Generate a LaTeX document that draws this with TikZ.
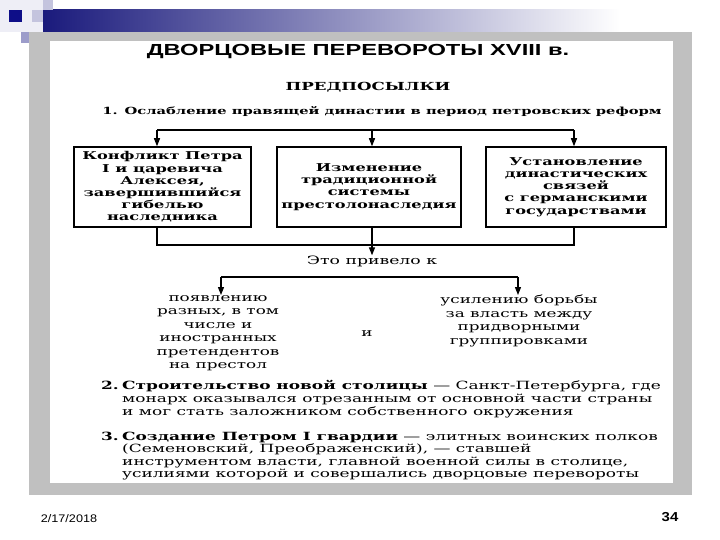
\documentclass[tikz,border=0pt]{standalone}
\usepackage{fontspec}
\setmainfont[FakeStretch=1.5]{DejaVu Serif}
\newfontfamily\titlef[FakeStretch=1.48]{Liberation Sans}
\newfontfamily\footf[FakeStretch=1.15]{Liberation Sans}
\usetikzlibrary{arrows.meta}
\definecolor{navy}{HTML}{1A1A7C}
\definecolor{darksq}{HTML}{0E0E88}
\definecolor{lav}{HTML}{C4C4DE}
\definecolor{lavlight}{HTML}{EEEEF6}
\definecolor{lavmid}{HTML}{9C9CCA}
\definecolor{framegrey}{HTML}{C0C0C0}
\tikzset{
  arr/.style={-{Triangle[length=8pt,width=6pt]}, line width=1.2pt},
  conn/.style={line width=1.2pt},
  box/.style={draw, line width=1.5pt, align=center, inner sep=0pt,
    minimum height=80pt, font=\bfseries\fontsize{10.8}{12.2}\selectfont},
  plain/.style={align=center, inner sep=0pt, font=\fontsize{11.2}{13.5}\selectfont},
}
\begin{document}
\begin{tikzpicture}[x=1pt,y=-1pt]
\useasboundingbox (0,0) rectangle (720,540);
\fill[white] (0,0) rectangle (720,540);
% decoration
\fill[lavlight] (0,0) rectangle (43,32);
\shade[left color=navy, right color=white] (43,10) rectangle (620,32);
\fill[lav] (43,0) rectangle (53,10);
\fill[lav] (32,10) rectangle (43,22);
\fill[darksq] (9,10) rectangle (22,22);
\fill[lavmid] (21,32) rectangle (32,43);
% frame
\fill[framegrey] (29,32) rectangle (692,495);
\fill[white] (50,41) rectangle (673,483);
% texts
\node[font=\titlef\bfseries\fontsize{16}{18}\selectfont, inner sep=0pt] (title) at (358,52) {ДВОРЦОВЫЕ ПЕРЕВОРОТЫ XVIII в.};
\node[font=\bfseries\fontsize{11.1}{13}\selectfont, inner sep=0pt] (pre) at (368,87) {ПРЕДПОСЫЛКИ};
\node[font=\bfseries\fontsize{9.8}{12}\selectfont, inner sep=0pt] (p1) at (382,112) {1. Ослабление правящей династии в период петровских реформ};
% boxes
\node[box, minimum width=177pt] (b1) at (162.5,187) {Конфликт Петра\\I и царевича\\Алексея,\\завершившийся\\гибелью\\наследника};
\node[box, minimum width=184pt] (b2) at (369,187) {Изменение\\традиционной\\системы\\престолонаследия};
\node[box, minimum width=180pt] (b3) at (576,187) {Установление\\династических\\связей\\с германскими\\государствами};
% top connectors
\coordinate (t1) at (157,130);
\coordinate (t2) at (372,130);
\coordinate (t3) at (574,130);
\draw[conn] (t1) -- (t3);
\draw[arr] (t1) -- (t1 |- b1.north);
\draw[arr] (t2) -- (t2 |- b2.north);
\draw[arr] (t3) -- (t3 |- b3.north);
% bottom connectors
\coordinate (u1) at (157,245);
\coordinate (u2) at (372,245);
\coordinate (u3) at (574,245);
\draw[conn] (u1 |- b1.south) -- (u1) -- (u3) -- (u3 |- b3.south);
\draw[conn] (u2 |- b2.south) -- (u2);
\node[plain, font=\fontsize{11.5}{13.5}\selectfont] (led) at (372,261) {Это привело к};
\draw[arr] (u2) -- (led.north);
\coordinate (v1) at (221,277);
\coordinate (v2) at (518,277);
\draw[conn] (v1) -- (v2);
\node[plain, anchor=north] (left) at (218,295) {появлению\\разных, в том\\числе и\\иностранных\\претендентов\\на престол};
\node[plain, anchor=north] (right) at (519,295) {усилению борьбы\\за власть между\\придворными\\группировками};
\draw[arr] (v1) -- (v1 |- left.north);
\draw[arr] (v2) -- (v2 |- right.north);
\node[plain] (and) at (367,334) {и};
% paragraphs
\node[anchor=north west, inner sep=0pt, font=\fontsize{11.3}{13}\selectfont] (par2) at (101,380)
 {\begin{tabular}{@{}p{21pt}@{}l@{}}
 \textbf{2.} & \textbf{Строительство новой столицы} — Санкт-Петербурга, где\\
 & монарх оказывался отрезанным от основной части страны\\
 & и мог стать заложником собственного окружения
 \end{tabular}};
\node[anchor=north west, inner sep=0pt, font=\fontsize{11.3}{12}\selectfont] (par3) at (101,432)
 {\begin{tabular}{@{}p{21pt}@{}l@{}}
 \textbf{3.} & \textbf{Создание Петром I гвардии} — элитных воинских полков\\
 & (Семеновский, Преображенский), — ставшей\\
 & инструментом власти, главной военной силы в столице,\\
 & усилиями которой и совершались дворцовые перевороты
 \end{tabular}};
% footer
\node[font=\footf\fontsize{11}{12}\selectfont, inner sep=0pt] (date) at (69,519) {2/17/2018};
\node[font=\footf\bfseries\fontsize{13}{14}\selectfont, inner sep=0pt] (page) at (670,517) {34};
\end{tikzpicture}
\end{document}
